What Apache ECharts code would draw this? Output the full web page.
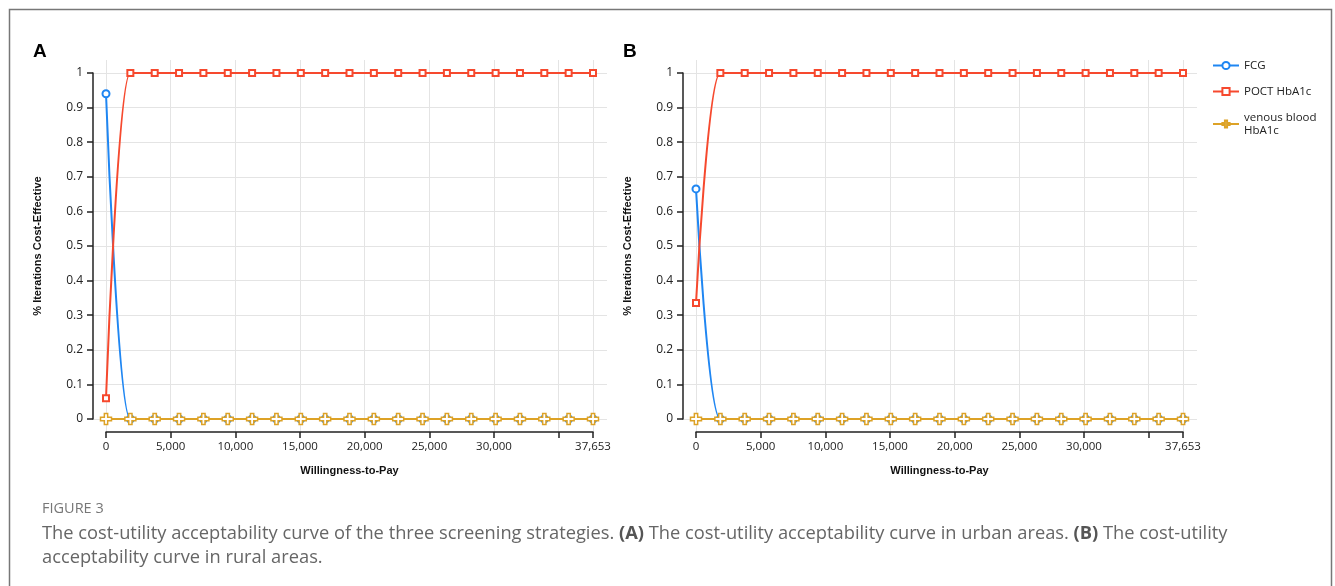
<!DOCTYPE html>
<html>
<head>
<meta charset="utf-8">
<script src="https://cdn.jsdelivr.net/npm/echarts@6/dist/echarts.min.js"></script>
<style>
html,body{margin:0;padding:0;background:#fff;}
#c{width:1335px;height:586px;}
</style>
</head>
<body>
<div id="c"></div>
<script>
// ---- data ----
var wtp = [0, 1882.65, 3765.3, 5647.95, 7530.6, 9413.25, 11295.9, 13178.55, 15061.2, 16943.85, 18826.5,
           20709.15, 22591.8, 24474.45, 26357.1, 28239.75, 30122.4, 32005.05, 33887.7, 35770.35, 37653];
var seriesNames = ['FCG', 'POCT HbA1c', 'venous blood HbA1c'];
// Panel A (urban)
var urbanFCG   = [0.94, 0, 0, 0, 0, 0, 0, 0, 0, 0, 0, 0, 0, 0, 0, 0, 0, 0, 0, 0, 0];
var urbanPOCT  = [0.06, 1, 1, 1, 1, 1, 1, 1, 1, 1, 1, 1, 1, 1, 1, 1, 1, 1, 1, 1, 1];
var urbanVenous= [0, 0, 0, 0, 0, 0, 0, 0, 0, 0, 0, 0, 0, 0, 0, 0, 0, 0, 0, 0, 0];
// Panel B (rural)
var ruralFCG   = [0.665, 0, 0, 0, 0, 0, 0, 0, 0, 0, 0, 0, 0, 0, 0, 0, 0, 0, 0, 0, 0];
var ruralPOCT  = [0.335, 1, 1, 1, 1, 1, 1, 1, 1, 1, 1, 1, 1, 1, 1, 1, 1, 1, 1, 1, 1];
var ruralVenous= [0, 0, 0, 0, 0, 0, 0, 0, 0, 0, 0, 0, 0, 0, 0, 0, 0, 0, 0, 0, 0];
// ticks
var xTickValues  = [0, 5000, 10000, 15000, 20000, 25000, 30000, 35000, 37653];
var xLabelValues = [0, 5000, 10000, 15000, 20000, 25000, 30000, 37653];
var yTickValues  = [0, 0.1, 0.2, 0.3, 0.4, 0.5, 0.6, 0.7, 0.8, 0.9, 1];
var xMax = 37653;

// ---- styles ----
var COL = ['#1f86f2', '#f6492e', '#dda226'];
var plusPath = 'path://M3.5,0 H6.5 V3.5 H10 V6.5 H6.5 V10 H3.5 V6.5 H0 V3.5 H3.5 Z';
var tickFont = 'Open Sans';
var boldFont = 'Liberation Sans';

function pairs(vals){ return wtp.map(function(x,i){ return [x, vals[i]]; }); }

var plotW = 487, plotH = 346, pad = 13;
var pxPerX = plotW / xMax, pxPerY = plotH;
var bgXMin = -pad / pxPerX, bgXMax = xMax + 14 / pxPerX;
var bgYMin = -pad / pxPerY, bgYMax = 1 + pad / pxPerY;

var panels = [{left: 106, data: [urbanFCG, urbanPOCT, urbanVenous]},
              {left: 696, data: [ruralFCG, ruralPOCT, ruralVenous]}];

var grids = [], xAxes = [], yAxes = [], series = [];
panels.forEach(function(p, k){
  var gBg = grids.length;
  grids.push({left: p.left - pad, top: 73 - pad, width: plotW + pad + 14, height: plotH + 2*pad});
  var gD = grids.length;
  grids.push({left: p.left, top: 73, width: plotW, height: plotH});
  // background axes (grid lines only)
  xAxes.push({gridIndex: gBg, type: 'value', min: bgXMin, max: bgXMax,
    axisLine: {show: false}, axisLabel: {show: false},
    axisTick: {show: false, customValues: xTickValues},
    splitLine: {show: true, lineStyle: {color: '#e4e4e4', width: 1}}});
  yAxes.push({gridIndex: gBg, type: 'value', min: bgYMin, max: bgYMax,
    axisLine: {show: false}, axisLabel: {show: false},
    axisTick: {show: false, customValues: yTickValues},
    splitLine: {show: true, lineStyle: {color: '#e4e4e4', width: 1}}});
  // data axes
  xAxes.push({gridIndex: gD, type: 'value', min: 0, max: xMax, offset: pad,
    name: 'Willingness-to-Pay', nameLocation: 'middle', nameGap: 33,
    nameTextStyle: {fontFamily: boldFont, fontWeight: 'bold', fontSize: 11, color: '#111'},
    axisLine: {onZero: false, lineStyle: {color: '#222', width: 1.5}},
    axisTick: {customValues: xTickValues, length: 6, lineStyle: {color: '#222', width: 1.5}},
    axisLabel: {customValues: xLabelValues, margin: 9, fontFamily: tickFont, fontSize: 11.5, color: '#222',
      formatter: function(v){ return Math.round(v).toLocaleString('en-US'); }},
    splitLine: {show: false}});
  yAxes.push({gridIndex: gD, type: 'value', min: 0, max: 1, offset: pad,
    name: '% Iterations Cost-Effective', nameLocation: 'middle', nameGap: 50, nameRotate: 90,
    nameTextStyle: {fontFamily: boldFont, fontWeight: 'bold', fontSize: 11, color: '#111'},
    axisLine: {onZero: false, lineStyle: {color: '#222', width: 1.5}},
    axisTick: {customValues: yTickValues, length: 6, lineStyle: {color: '#222', width: 1.5}},
    axisLabel: {customValues: yTickValues, margin: 10, fontFamily: tickFont, fontSize: 12, color: '#222'},
    splitLine: {show: false}});
  var ai = xAxes.length - 1;
  series.push({name: seriesNames[0], type: 'line', xAxisIndex: ai, yAxisIndex: ai, clip: false,
    data: pairs(p.data[0]), smooth: 0.5, smoothMonotone: 'x', color: COL[0],
    symbol: 'emptyCircle', symbolSize: 7,
    itemStyle: {color: COL[0], borderWidth: 1.5}, lineStyle: {color: COL[0], width: 2}, z: 3});
  series.push({name: seriesNames[1], type: 'line', xAxisIndex: ai, yAxisIndex: ai, clip: false,
    data: pairs(p.data[1]), smooth: 0.5, smoothMonotone: 'x', color: COL[1],
    symbol: 'emptyRect', symbolSize: 6,
    itemStyle: {color: COL[1], borderWidth: 1.5}, lineStyle: {color: COL[1], width: 2}, z: 3});
  series.push({name: seriesNames[2], type: 'line', xAxisIndex: ai, yAxisIndex: ai, clip: false,
    data: pairs(p.data[2]), smooth: 0.5, smoothMonotone: 'x', color: COL[2],
    symbol: plusPath, symbolSize: 11,
    itemStyle: {color: '#fff', borderColor: COL[2], borderWidth: 1.5}, lineStyle: {color: COL[2], width: 2}, z: 4});
});

var chart = echarts.init(document.getElementById('c'), null, {renderer: 'canvas'});
chart.setOption({
  animation: false,
  backgroundColor: '#fff',
  grid: grids, xAxis: xAxes, yAxis: yAxes, series: series,
  legend: {orient: 'vertical', left: 1212, top: 59, itemWidth: 26, itemHeight: 9, itemGap: 13,
    data: seriesNames, padding: 0,
    textStyle: {fontFamily: tickFont, fontSize: 11.5, color: '#222', lineHeight: 13},
    formatter: function(n){ return n === 'venous blood HbA1c' ? 'venous blood\nHbA1c' : n; }},
  title: [
    {text: 'A', left: 33, top: 42, padding: 0, textStyle: {fontFamily: boldFont, fontWeight: 'bold', fontSize: 19, color: '#000'}},
    {text: 'B', left: 623, top: 42, padding: 0, textStyle: {fontFamily: boldFont, fontWeight: 'bold', fontSize: 19, color: '#000'}},
    {text: 'FIGURE 3', left: 42, top: 501, padding: 0, textStyle: {fontFamily: tickFont, fontWeight: 'normal', fontSize: 14.5, color: '#777'}},
    {text: '{n|The cost-utility acceptability curve of the three screening strategies. }{b|(A)}{n| The cost-utility acceptability curve in urban areas. }{b|(B)}{n| The cost-utility}\n{n|acceptability curve in rural areas.}',
     left: 42, top: 522, padding: 0,
     textStyle: {fontWeight: 'normal', rich: {
       n: {fontFamily: tickFont, fontSize: 18.3, fontWeight: 'normal', color: '#666', lineHeight: 24},
       b: {fontFamily: tickFont, fontSize: 18.3, fontWeight: 'bold', color: '#555', lineHeight: 24}}}}
  ],
  graphic: [
    {type: 'polyline', silent: true, shape: {points: [[9.5, 586], [9.5, 9.5], [1331.5, 9.5], [1331.5, 586]]},
     style: {stroke: '#777', lineWidth: 1.5, fill: null}}
  ]
});
</script>
</body>
</html>
